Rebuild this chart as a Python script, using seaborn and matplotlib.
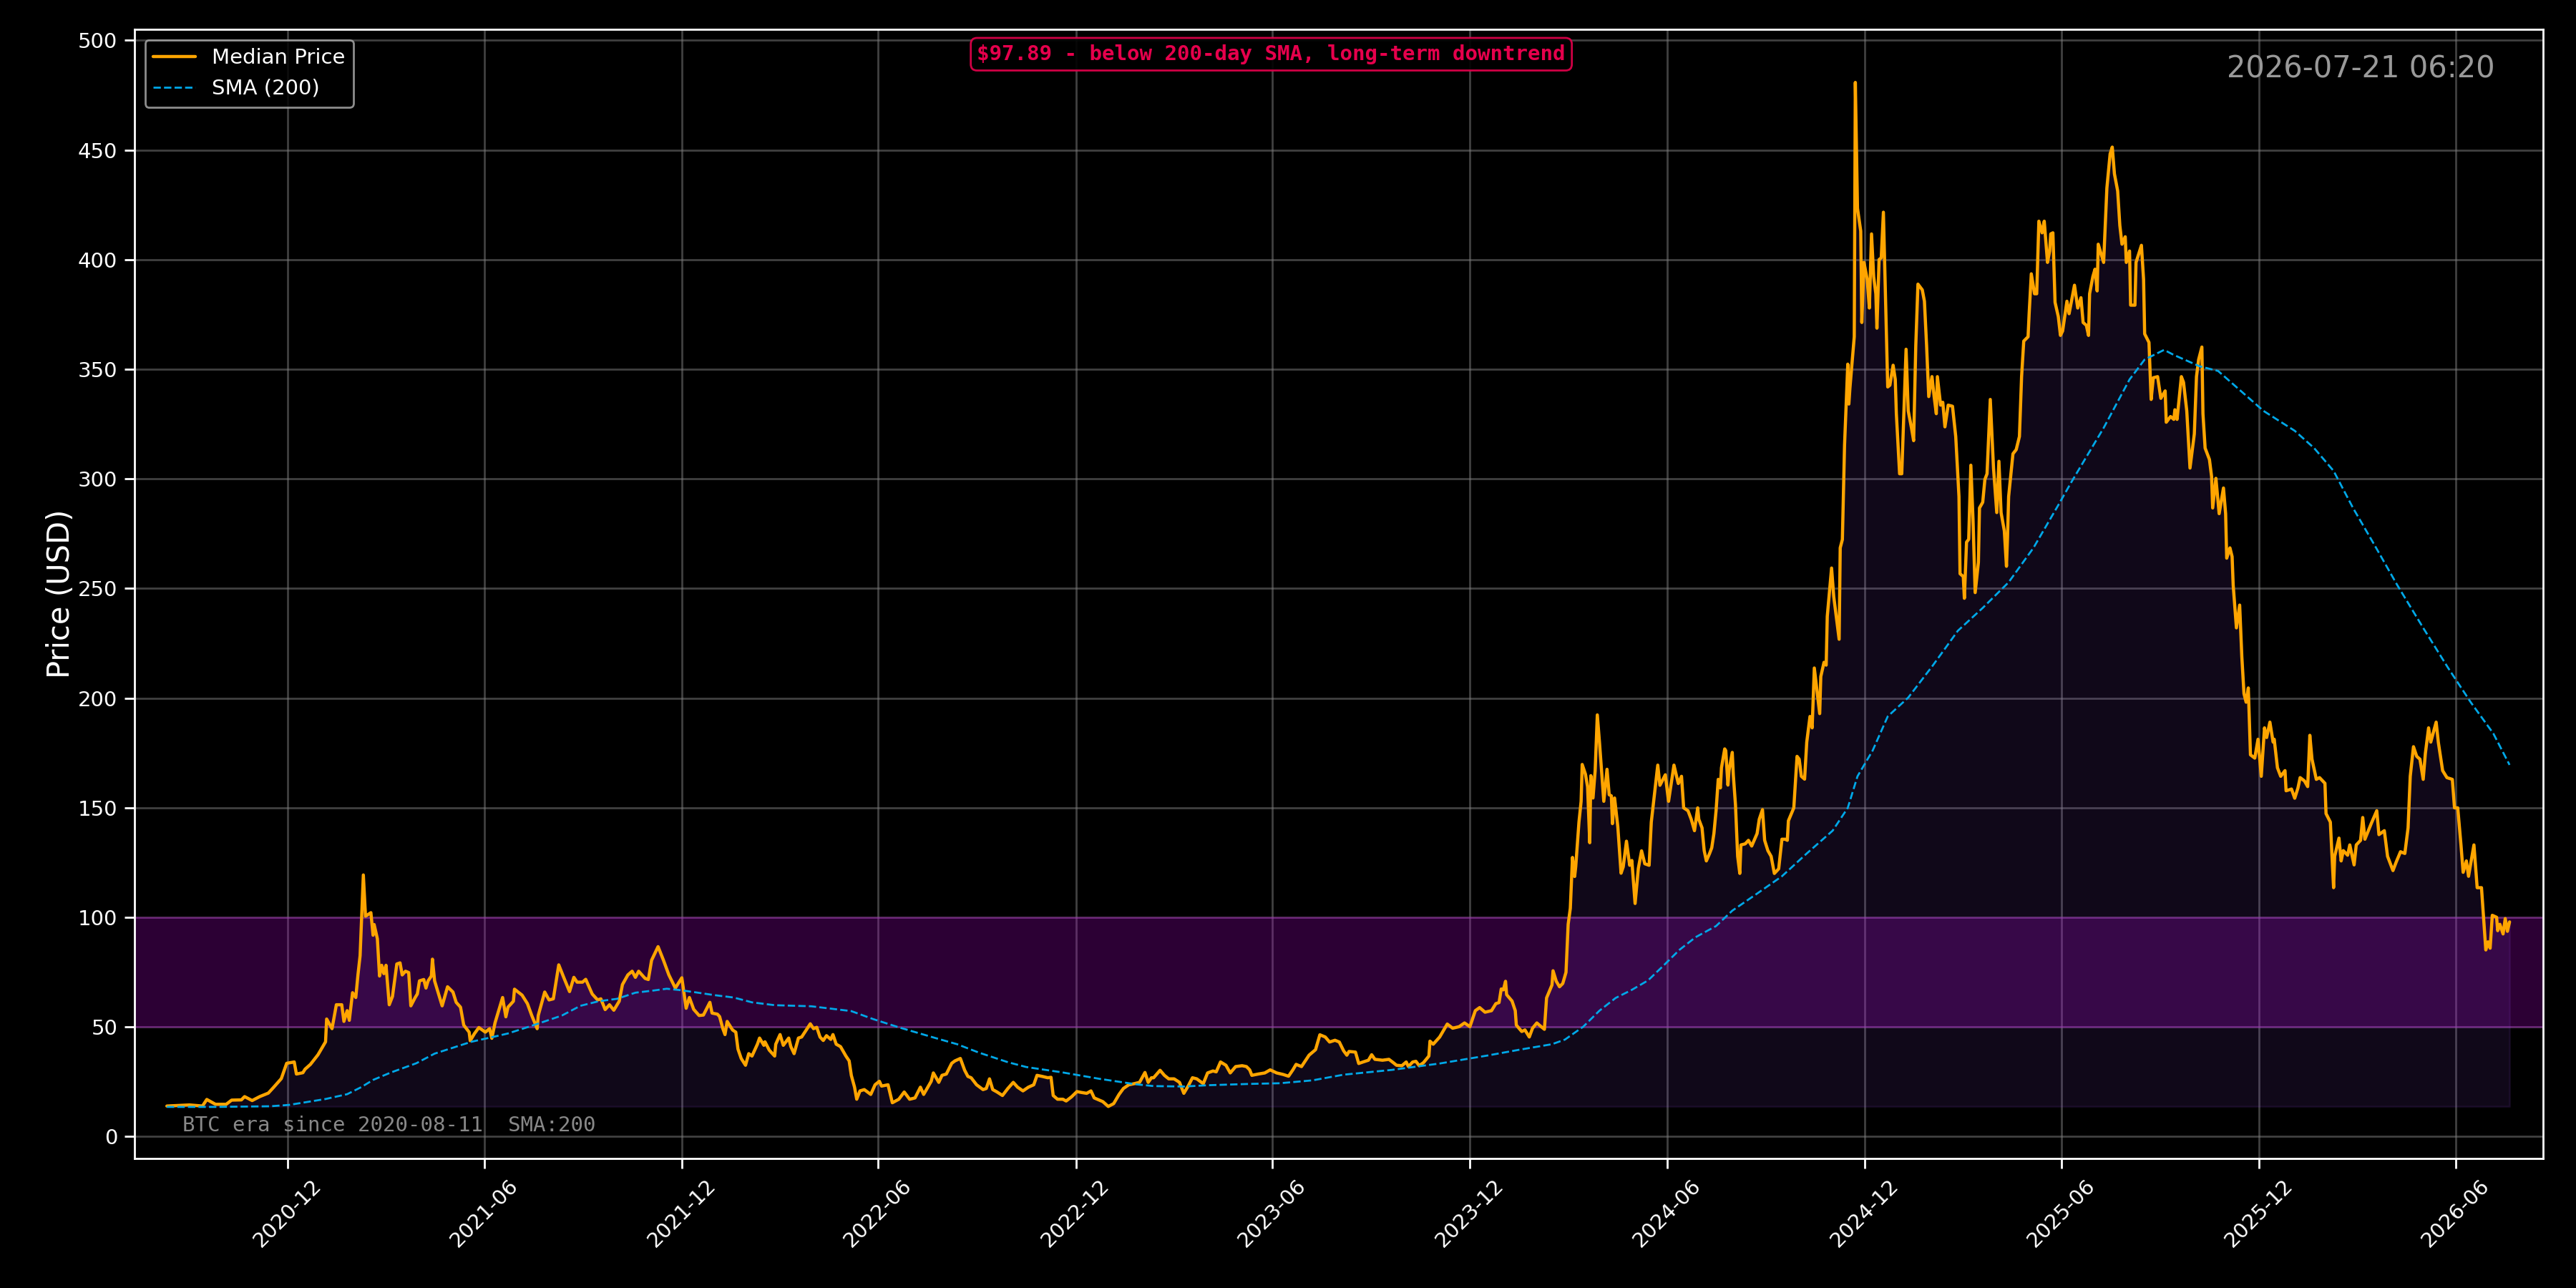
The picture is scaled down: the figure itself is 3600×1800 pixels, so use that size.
import pandas as pd
import matplotlib.pyplot as plt
import matplotlib.dates as mdates
import seaborn as sns

ERA_START = '2020-08-11'
STAMP = '2026-07-21 06:20'
SMA_WINDOW = 200

# Median price. Days are counted from ERA_START.
# 2020-08 .. 2021-12
days_a = [0, 21, 33, 37, 45, 55, 60, 69, 72, 79,
          86, 94, 99, 106, 111, 118, 120, 126, 128, 133,
          140, 147, 148, 153, 157, 162, 164, 167, 169, 172,
          175, 177, 179, 182, 184, 189, 191, 192, 195, 197,
          199, 201, 203, 206, 209, 213, 216, 218, 221, 224,
          226, 230, 232, 234, 238, 240, 242, 245, 246, 248,
          251, 255, 260, 265, 268, 272, 275, 280, 281, 285,
          289, 295, 299, 301, 304, 311, 314, 316, 321, 322,
          329, 334, 338, 343, 344, 350, 354, 358, 363, 368,
          373, 377, 380, 385, 388, 394, 399, 402, 406, 410,
          414, 419, 422, 427, 431, 434, 437, 443, 446, 449,
          455, 460, 465, 471, 477]
price_a = [13.9, 14.4, 13.9, 16.9, 14.7, 14.7, 16.6, 16.7, 18.2, 16.4,
           18.2, 19.8, 22.5, 26.4, 33.4, 34.0, 28.5, 29.1, 30.7, 32.9,
           37.3, 43.2, 53.6, 49.2, 60.1, 60.1, 52.5, 57.4, 53.0, 65.6,
           63.4, 73.7, 82.5, 119.3, 100.5, 102.1, 91.8, 96.7, 90.2, 73.2,
           78.1, 74.3, 78.1, 60.1, 63.9, 78.7, 79.2, 73.7, 75.4, 74.8,
           59.6, 63.4, 65.0, 71.0, 71.6, 67.7, 71.0, 73.2, 80.9, 71.0,
           66.1, 59.6, 68.3, 65.9, 61.2, 59.0, 50.8, 47.6, 43.7, 47.0,
           49.7, 47.6, 49.2, 44.8, 51.9, 63.4, 54.6, 59.0, 61.7, 67.2,
           64.5, 60.6, 55.2, 49.2, 55.2, 65.9, 62.3, 62.8, 78.3, 72.1,
           66.1, 72.6, 70.4, 70.4, 71.7, 65.0, 62.3, 62.8, 57.9, 60.1,
           57.6, 61.7, 69.3, 73.7, 75.4, 72.6, 75.4, 72.1, 71.6, 80.4,
           86.6, 80.4, 73.7, 67.7, 72.4]

# 2021-12 .. 2023-04
days_b = [481, 484, 488, 493, 497, 503, 505, 510, 512, 515,
          517, 519, 524, 527, 529, 532, 536, 539, 542, 547,
          549, 553, 554, 558, 563, 564, 568, 571, 576, 578,
          581, 585, 588, 596, 599, 602, 605, 608, 611, 615,
          617, 620, 624, 629, 632, 634, 637, 639, 642, 646,
          649, 652, 656, 660, 662, 668, 672, 678, 683, 688,
          693, 698, 701, 708, 710, 715, 718, 722, 727, 730,
          735, 739, 742, 745, 750, 756, 759, 762, 765, 769,
          774, 779, 784, 788, 793, 798, 803, 806, 811, 816,
          819, 821, 825, 830, 833, 838, 843, 847, 852, 856,
          859, 867, 872, 877, 882, 886, 891, 896, 901, 906,
          909, 912, 914, 920, 924, 928, 933, 938, 942, 946,
          950, 954, 960, 964, 969, 972]
price_b = [58.5, 63.4, 58.0, 55.2, 55.4, 61.2, 56.3, 55.8, 54.7, 49.2,
           46.5, 52.5, 48.6, 47.6, 39.9, 35.6, 32.5, 37.8, 36.7, 42.1,
           44.9, 41.6, 43.2, 39.4, 36.7, 42.1, 46.5, 41.6, 44.9, 41.0,
           37.8, 44.9, 45.4, 51.4, 49.2, 49.8, 45.4, 43.8, 46.0, 44.3,
           46.5, 42.1, 41.0, 36.7, 34.5, 27.9, 22.5, 17.0, 20.8, 21.4,
           20.3, 19.2, 23.6, 25.2, 23.0, 23.6, 15.4, 17.0, 20.3, 17.0,
           17.6, 22.5, 19.2, 25.2, 29.0, 24.7, 27.9, 28.5, 33.4, 34.5,
           35.6, 30.2, 27.4, 26.8, 23.6, 21.4, 21.9, 26.3, 21.4, 20.3,
           18.7, 21.9, 24.7, 22.5, 20.8, 22.5, 23.6, 27.9, 27.4, 26.8,
           27.0, 18.7, 17.0, 17.0, 16.2, 18.1, 20.5, 20.1, 19.7, 20.8,
           17.6, 15.9, 13.7, 15.0, 19.2, 21.9, 23.6, 24.1, 24.7, 29.2,
           24.7, 26.8, 26.8, 30.2, 27.9, 26.3, 26.3, 24.7, 19.7, 23.0,
           26.8, 26.3, 24.1, 29.0, 29.9, 29.5]

# 2023-04 .. 2024-09
days_c = [976, 981, 985, 990, 996, 1000, 1003, 1005, 1011, 1017,
          1022, 1028, 1034, 1039, 1043, 1046, 1051, 1058, 1064, 1068,
          1073, 1077, 1082, 1086, 1090, 1093, 1095, 1101, 1104, 1108,
          1113, 1116, 1119, 1126, 1132, 1136, 1139, 1144, 1148, 1150,
          1154, 1157, 1160, 1164, 1169, 1170, 1173, 1179, 1186, 1191,
          1197, 1202, 1207, 1212, 1216, 1221, 1227, 1231, 1234, 1236,
          1238, 1240, 1241, 1246, 1249, 1250, 1255, 1258, 1262, 1265,
          1269, 1273, 1276, 1278, 1283, 1284, 1287, 1290, 1293, 1296,
          1298, 1300, 1302, 1304, 1305, 1308, 1310, 1311, 1314, 1316,
          1318, 1319, 1321, 1323, 1325, 1327, 1331, 1334, 1336, 1338,
          1339, 1341, 1344, 1347, 1349, 1352, 1355, 1357, 1360, 1363,
          1366, 1369, 1373, 1375, 1381, 1383, 1388, 1391, 1396, 1400]
price_c = [34.0, 32.5, 29.0, 31.9, 32.3, 31.9, 30.4, 27.9, 28.5, 29.0,
           30.4, 29.0, 28.3, 27.5, 30.4, 32.9, 31.9, 37.1, 39.6, 46.4,
           45.4, 43.1, 43.9, 43.1, 39.1, 37.1, 38.8, 38.5, 33.3, 34.0,
           34.8, 37.3, 35.2, 34.8, 35.2, 33.7, 32.5, 32.3, 34.0, 31.9,
           34.0, 34.3, 32.3, 33.7, 36.7, 43.5, 42.1, 45.4, 51.3, 49.4,
           50.1, 51.8, 50.1, 57.4, 58.8, 56.7, 57.4, 60.6, 61.1, 67.3,
           66.9, 70.8, 64.7, 61.8, 57.4, 50.8, 47.9, 48.6, 45.4, 49.4,
           51.8, 50.1, 48.9, 63.2, 69.1, 75.6, 70.8, 68.3, 69.8, 74.9,
           96.8, 104.1, 127.3, 118.6, 123.0, 143.4, 152.9, 169.7, 165.3, 159.5,
           134.0, 164.6, 154.4, 166.8, 192.3, 179.9, 152.9, 167.5, 155.9, 155.4,
           142.7, 154.4, 141.3, 120.1, 123.0, 134.7, 123.7, 125.9, 106.3, 122.3,
           130.3, 124.4, 123.7, 143.4, 169.4, 160.2, 165.0, 152.9, 169.4, 161.0]

# 2024-09 .. 2025-07
days_d = [1403, 1405, 1409, 1412, 1415, 1418, 1419, 1422, 1424, 1426,
          1429, 1431, 1433, 1435, 1437, 1439, 1440, 1443, 1444, 1446,
          1447, 1450, 1451, 1453, 1455, 1457, 1458, 1462, 1465, 1468,
          1473, 1475, 1478, 1480, 1483, 1486, 1489, 1493, 1496, 1499,
          1501, 1502, 1507, 1510, 1512, 1514, 1517, 1519, 1522, 1524,
          1526, 1531, 1532, 1535, 1537, 1538, 1542, 1544, 1549, 1550,
          1552, 1554, 1557, 1558, 1559, 1563, 1564, 1566, 1569, 1570,
          1572, 1575, 1577, 1579, 1581, 1583, 1584, 1586, 1588, 1590,
          1593, 1594, 1596, 1599, 1601, 1602, 1605, 1607, 1611, 1613,
          1616, 1618, 1620, 1622, 1626, 1628, 1630, 1632, 1635, 1637,
          1639, 1640, 1643, 1645, 1647, 1650, 1654, 1657, 1660, 1661,
          1664, 1665, 1667, 1669, 1671, 1673, 1675, 1678, 1679, 1682,
          1684, 1686, 1689, 1692, 1695, 1697, 1699, 1702, 1704, 1705,
          1706, 1710, 1713, 1716, 1718, 1720, 1724, 1725, 1727, 1730,
          1732, 1734]
price_d = [164.3, 149.9, 148.6, 144.7, 139.5, 149.9, 144.7, 140.8, 130.4, 125.7,
           129.1, 131.7, 138.2, 148.6, 162.9, 159.0, 168.2, 176.8, 176.0, 160.3,
           166.9, 175.2, 164.8, 151.2, 127.8, 120.0, 133.0, 133.5, 135.1, 132.5,
           138.2, 144.7, 149.1, 135.1, 130.4, 127.8, 120.0, 122.1, 135.6, 135.6,
           135.1, 144.0, 149.9, 173.4, 172.1, 164.3, 163.0, 179.9, 191.6, 186.4,
           213.7, 192.9, 209.8, 216.3, 215.0, 237.2, 259.3, 246.3, 226.8, 268.5,
           272.3, 315.3, 352.3, 334.1, 341.4, 364.8, 480.8, 423.4, 413.0, 371.3,
           398.7, 390.9, 377.9, 411.7, 392.2, 384.4, 368.7, 400.0, 400.8, 421.6,
           360.9, 341.9, 342.7, 351.8, 345.3, 329.7, 302.3, 302.3, 359.1, 331.0,
           323.2, 317.4, 360.9, 388.8, 386.2, 381.0, 360.9, 337.5, 346.6, 337.5,
           329.7, 346.6, 333.6, 334.9, 323.7, 333.6, 333.1, 319.3, 291.9, 256.7,
           255.4, 245.5, 271.1, 272.4, 306.2, 281.5, 248.1, 261.9, 286.7, 289.3,
           299.7, 302.3, 336.2, 304.9, 284.6, 308.0, 284.6, 276.3, 260.1, 273.7,
           291.9, 311.4, 313.3, 319.3, 346.6, 362.8, 364.8, 375.3, 393.5, 384.4,
           384.4, 417.5]

# 2025-07 .. 2026-07
days_e = [1737, 1739, 1742, 1744, 1745, 1747, 1749, 1752, 1754, 1756,
          1760, 1762, 1767, 1770, 1773, 1775, 1778, 1780, 1781, 1784,
          1786, 1788, 1789, 1794, 1797, 1800, 1802, 1804, 1807, 1809,
          1811, 1814, 1815, 1818, 1819, 1823, 1824, 1829, 1831, 1832,
          1836, 1838, 1840, 1844, 1847, 1851, 1852, 1856, 1859, 1860,
          1862, 1866, 1868, 1871, 1874, 1878, 1880, 1882, 1885, 1886,
          1888, 1892, 1894, 1895, 1898, 1901, 1905, 1907, 1908, 1911,
          1913, 1914, 1917, 1920, 1922, 1924, 1926, 1928, 1930, 1934,
          1937, 1940, 1943, 1945, 1948, 1951, 1952, 1955, 1958, 1962,
          1963, 1968, 1971, 1974, 1976, 1980, 1983, 1985, 1987, 1991,
          1994, 1999, 2000, 2004, 2007, 2008, 2012, 2014, 2016, 2020,
          2022, 2026, 2028, 2032, 2034, 2036, 2042, 2047, 2049, 2054,
          2057, 2062, 2065, 2069, 2073, 2076, 2078, 2081, 2084, 2087,
          2090, 2092, 2095, 2097, 2102, 2104, 2108, 2112, 2117, 2119,
          2122, 2125, 2127, 2130, 2132, 2137, 2140, 2144, 2148, 2150,
          2152, 2154, 2158, 2159, 2161, 2164, 2166, 2168, 2170]
price_e = [412.2, 417.5, 398.7, 403.9, 411.7, 412.2, 380.5, 374.0, 365.4, 367.4,
           381.0, 375.3, 388.3, 377.9, 382.6, 371.3, 370.0, 365.4, 384.4, 392.2,
           395.6, 385.7, 407.0, 398.7, 432.6, 448.2, 451.3, 439.1, 431.3, 415.6,
           407.0, 410.4, 398.7, 403.9, 379.2, 379.2, 398.7, 406.5, 390.9, 366.1,
           362.2, 336.2, 346.1, 346.6, 336.7, 340.1, 325.8, 328.4, 327.1, 331.5,
           327.1, 346.6, 344.0, 331.0, 304.9, 320.5, 346.6, 354.4, 360.1, 329.7,
           314.0, 308.8, 301.0, 286.7, 300.2, 284.1, 295.8, 284.1, 263.8, 268.5,
           264.5, 251.5, 232.0, 242.4, 218.9, 202.0, 198.1, 204.6, 174.1, 172.6,
           181.2, 164.3, 186.4, 182.0, 189.0, 179.9, 181.2, 168.2, 164.3, 166.9,
           157.7, 158.5, 154.3, 159.0, 163.7, 162.2, 159.6, 183.0, 172.1, 162.9,
           163.7, 161.1, 147.3, 143.4, 113.5, 127.8, 136.1, 125.7, 130.4, 128.3,
           133.0, 123.9, 133.0, 135.1, 145.5, 135.6, 142.9, 148.6, 137.7, 139.5,
           127.8, 121.3, 125.2, 129.9, 129.1, 140.8, 164.3, 177.8, 173.4, 172.1,
           162.9, 174.7, 186.4, 179.9, 189.0, 179.9, 166.9, 163.7, 162.9, 149.9,
           149.9, 133.0, 120.5, 125.7, 118.7, 133.0, 113.5, 113.5, 85.1, 88.8,
           85.9, 100.9, 100.0, 93.9, 96.8, 92.4, 99.4, 93.6, 97.89]

# 200-day SMA
sma_day = [0, 45, 96, 113, 147, 167, 180, 191, 207, 231,
           248, 265, 282, 302, 316, 333, 350, 366, 383, 400,
           417, 434, 451, 463, 475, 492, 507, 525, 542, 563,
           597, 634, 654, 678, 712, 732, 752, 779, 796, 830,
           864, 898, 914, 942, 965, 1004, 1031, 1061, 1090, 1135,
           1179, 1224, 1253, 1283, 1295, 1312, 1327, 1342, 1357, 1372,
           1386, 1401, 1416, 1435, 1450, 1473, 1496, 1519, 1543, 1557,
           1566, 1580, 1594, 1613, 1636, 1659, 1682, 1706, 1729, 1752,
           1764, 1794, 1818, 1832, 1850, 1859, 1883, 1900, 1918, 1942,
           1971, 1989, 2007, 2025, 2045, 2066, 2090, 2113, 2134, 2155, 2170]
sma_usd = [13.5, 13.5, 13.8, 14.4, 17.1, 19.3, 22.5, 25.8, 29.1, 33.4,
           37.8, 40.5, 43.2, 45.4, 47.0, 49.7, 52.5, 55.2, 59.6, 61.7,
           62.8, 65.6, 66.6, 67.4, 66.8, 65.6, 64.5, 63.4, 61.2, 59.9,
           59.4, 57.2, 53.6, 49.8, 44.9, 42.1, 38.3, 33.9, 31.7, 29.2,
           26.3, 23.8, 23.0, 22.8, 23.4, 24.0, 24.3, 25.6, 28.2, 30.4,
           33.3, 37.0, 39.6, 42.1, 44.2, 50.1, 57.4, 63.2, 66.9, 71.2,
           77.8, 85.1, 90.9, 96.0, 103.0, 110.8, 118.7, 129.1, 139.5, 149.9,
           164.3, 176.0, 191.6, 200.2, 215.0, 230.7, 241.1, 252.8, 268.5, 288.0,
           298.4, 323.2, 345.3, 354.4, 358.8, 356.5, 351.3, 349.2, 341.4, 331.0,
           321.9, 314.0, 303.6, 286.7, 269.7, 251.5, 232.0, 213.8, 198.1, 183.8, 169.5]

band = (50, 100)          # highlighted price zone
y_ticks = list(range(0, 501, 50))

sns.set_theme(style='darkgrid', font='DejaVu Sans', rc={
    'figure.facecolor': 'black',
    'axes.facecolor': 'black',
    'axes.edgecolor': 'white',
    'axes.labelcolor': 'white',
    'text.color': 'white',
    'xtick.color': 'white',
    'ytick.color': 'white',
    'xtick.bottom': True,
    'ytick.left': True,
    'grid.color': '#808080',
})

start = pd.Timestamp(ERA_START)
price_df = pd.DataFrame({
    'day': days_a + days_b + days_c + days_d + days_e,
    'price': price_a + price_b + price_c + price_d + price_e,
})
price_df['date'] = start + pd.to_timedelta(price_df['day'], unit='D')
sma_df = pd.DataFrame({'day': sma_day, 'sma': sma_usd})
sma_df['date'] = start + pd.to_timedelta(sma_df['day'], unit='D')

fig, ax = plt.subplots(figsize=(18, 9), dpi=200)
fig.subplots_adjust(left=0.0522, right=0.9872, bottom=0.1006, top=0.9772)

ax.axhspan(*band, color='#b000d0', alpha=0.25)
ax.fill_between(price_df['date'], price_df['price'], price_df['price'].min(),
                color='#a050ff', alpha=0.1)

sns.lineplot(data=price_df, x='date', y='price', ax=ax, estimator=None,
             color='orange', lw=1.6, label='Median Price')
sns.lineplot(data=sma_df, x='date', y='sma', ax=ax, estimator=None,
             color='#00a8e8', lw=1.0, linestyle='--', label=f'SMA ({SMA_WINDOW})')

# Axes, ticks
ax.set_xlim(price_df['date'].iloc[0] - pd.Timedelta(days=30),
            price_df['date'].iloc[-1] + pd.Timedelta(days=31))
ax.set_ylim(-10, 505)
ax.set_yticks(y_ticks)
ax.xaxis.set_major_locator(mdates.MonthLocator(bymonth=[6, 12]))
ax.xaxis.set_major_formatter(mdates.DateFormatter('%Y-%m'))
ax.tick_params(axis='both', labelsize=10.5, length=5, width=1, colors='white')
plt.setp(ax.get_xticklabels(), rotation=45)
ax.set_xlabel('')
ax.set_ylabel('Price (USD)', fontsize=15, labelpad=1)
ax.grid(True, color='#808080', alpha=0.5, lw=1.0)
for spine in ax.spines.values():
    spine.set_color('white')
    spine.set_linewidth(1.0)

ax.legend(loc='upper left', fontsize=10.5, facecolor='black',
          edgecolor='#b0b0b0', labelcolor='white')

# Text annotations
last_price = price_df['price'].iloc[-1]
ax.text(0.472, 0.978, f'${last_price:.2f} - below {SMA_WINDOW}-day SMA, long-term downtrend',
        transform=ax.transAxes, ha='center', va='center', fontsize=10.5,
        fontweight='bold', family='monospace', color='#e6004c',
        bbox=dict(boxstyle='round,pad=0.3', facecolor='black', edgecolor='#e6004c', alpha=0.9))
ax.text(0.98, 0.965, STAMP, transform=ax.transAxes, ha='right', va='center',
        fontsize=15, color='#999999')
ax.text(0.02, 0.029, f'BTC era since {ERA_START}  SMA:{SMA_WINDOW}',
        transform=ax.transAxes, ha='left', va='center', fontsize=10.5,
        family='monospace', color='#888888')

fig.savefig('out.png', dpi=200, facecolor='black')
